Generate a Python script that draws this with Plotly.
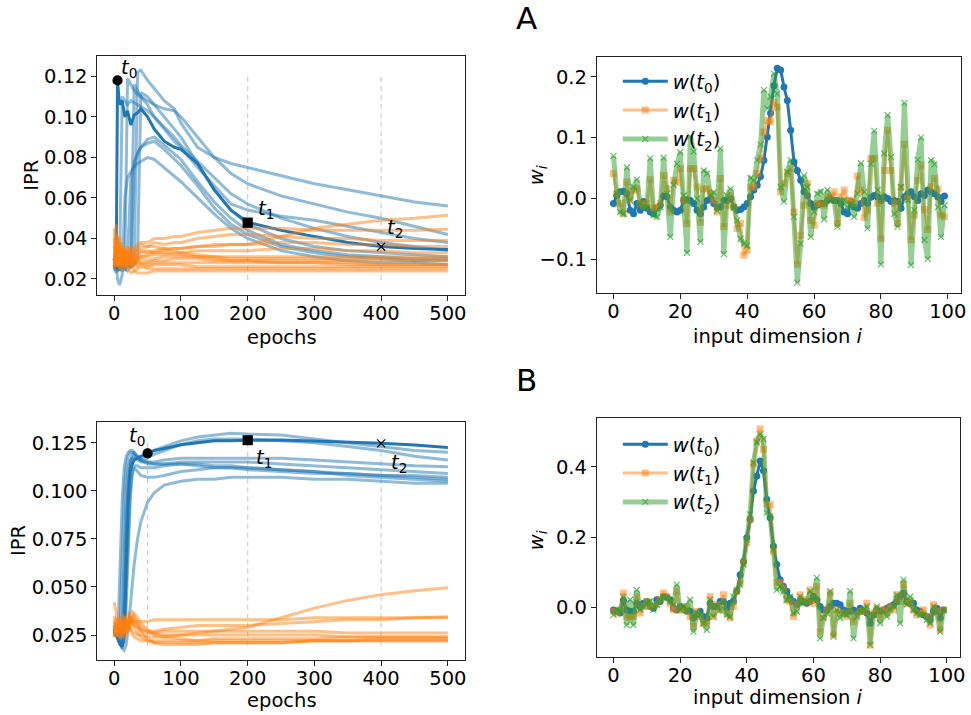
import plotly.graph_objects as go

# ---------------- DATA ----------------
# Panel A, left: IPR vs epochs
EPOCHS_A = [0, 3, 5, 8, 12, 16, 20, 25, 30, 35, 40, 50, 60, 75, 90, 100, 125, 150, 175, 200, 250, 300, 350, 400, 450, 500]
A_DARK = [0.030, 0.025, 0.118, 0.106, 0.108, 0.100, 0.103, 0.096, 0.101, 0.102, 0.104, 0.100, 0.094, 0.088, 0.085, 0.084, 0.077, 0.064, 0.054, 0.048, 0.044, 0.041, 0.038, 0.036, 0.035, 0.0345]
A_BLUE_1 = [0.028, 0.025, 0.030, 0.026, 0.029, 0.024, 0.027, 0.026, 0.028, 0.122, 0.123, 0.118, 0.114, 0.108, 0.104, 0.097, 0.085, 0.080, 0.077, 0.075, 0.071, 0.067, 0.064, 0.061, 0.058, 0.056]
A_BLUE_2 = [0.030, 0.027, 0.025, 0.029, 0.026, 0.028, 0.119, 0.116, 0.113, 0.111, 0.110, 0.108, 0.106, 0.104, 0.103, 0.100, 0.090, 0.080, 0.072, 0.067, 0.061, 0.057, 0.053, 0.050, 0.046, 0.042]
A_BLUE_3 = [0.028, 0.030, 0.026, 0.024, 0.027, 0.030, 0.026, 0.029, 0.116, 0.113, 0.110, 0.106, 0.100, 0.094, 0.088, 0.085, 0.075, 0.066, 0.057, 0.054, 0.051, 0.049, 0.046, 0.043, 0.040, 0.038]
A_BLUE_4 = [0.026, 0.028, 0.024, 0.027, 0.030, 0.025, 0.028, 0.026, 0.027, 0.030, 0.112, 0.110, 0.106, 0.100, 0.094, 0.090, 0.077, 0.064, 0.054, 0.047, 0.040, 0.036, 0.034, 0.033, 0.032, 0.031]
A_BLUE_5 = [0.024, 0.027, 0.030, 0.026, 0.028, 0.025, 0.024, 0.027, 0.075, 0.082, 0.085, 0.089, 0.090, 0.086, 0.082, 0.079, 0.068, 0.058, 0.050, 0.044, 0.037, 0.034, 0.032, 0.031, 0.030, 0.030]
A_BLUE_6 = [0.027, 0.023, 0.026, 0.029, 0.024, 0.027, 0.030, 0.070, 0.078, 0.082, 0.085, 0.087, 0.088, 0.084, 0.079, 0.076, 0.066, 0.055, 0.047, 0.042, 0.036, 0.033, 0.031, 0.030, 0.029, 0.029]
A_BLUE_7 = [0.025, 0.029, 0.020, 0.017, 0.022, 0.060, 0.070, 0.073, 0.075, 0.077, 0.078, 0.080, 0.079, 0.075, 0.071, 0.068, 0.060, 0.052, 0.045, 0.040, 0.034, 0.031, 0.029, 0.028, 0.028, 0.027]
A_BLUE_8 = [0.030, 0.026, 0.028, 0.024, 0.110, 0.108, 0.106, 0.108, 0.107, 0.106, 0.105, 0.103, 0.100, 0.095, 0.090, 0.086, 0.078, 0.070, 0.062, 0.057, 0.050, 0.045, 0.041, 0.038, 0.036, 0.034]
A_ORANGE_1 = [0.030, 0.038, 0.028, 0.033, 0.026, 0.031, 0.029, 0.027, 0.028, 0.030, 0.031, 0.032, 0.033, 0.034, 0.035, 0.035, 0.036, 0.036, 0.037, 0.037, 0.041, 0.045, 0.047, 0.049, 0.050, 0.0515]
A_ORANGE_2 = [0.045, 0.030, 0.040, 0.028, 0.036, 0.032, 0.030, 0.034, 0.035, 0.037, 0.038, 0.038, 0.040, 0.040, 0.041, 0.041, 0.043, 0.044, 0.045, 0.045, 0.045, 0.044, 0.044, 0.044, 0.044, 0.0446]
A_ORANGE_3 = [0.035, 0.042, 0.030, 0.038, 0.029, 0.033, 0.036, 0.031, 0.033, 0.035, 0.037, 0.036, 0.038, 0.037, 0.038, 0.038, 0.040, 0.041, 0.042, 0.042, 0.041, 0.040, 0.040, 0.039, 0.039, 0.039]
A_ORANGE_4 = [0.028, 0.033, 0.040, 0.027, 0.031, 0.035, 0.028, 0.034, 0.030, 0.032, 0.034, 0.033, 0.034, 0.035, 0.035, 0.035, 0.036, 0.037, 0.037, 0.037, 0.038, 0.038, 0.037, 0.037, 0.036, 0.036]
A_ORANGE_5 = [0.032, 0.026, 0.035, 0.030, 0.038, 0.028, 0.032, 0.029, 0.031, 0.030, 0.031, 0.031, 0.032, 0.032, 0.033, 0.033, 0.034, 0.034, 0.034, 0.034, 0.035, 0.035, 0.034, 0.034, 0.033, 0.033]
A_ORANGE_6 = [0.025, 0.030, 0.027, 0.036, 0.028, 0.030, 0.034, 0.027, 0.029, 0.028, 0.030, 0.029, 0.030, 0.031, 0.031, 0.031, 0.031, 0.031, 0.031, 0.031, 0.031, 0.031, 0.031, 0.031, 0.031, 0.031]
A_ORANGE_7 = [0.040, 0.028, 0.032, 0.029, 0.035, 0.026, 0.030, 0.032, 0.027, 0.029, 0.028, 0.028, 0.029, 0.029, 0.030, 0.030, 0.030, 0.029, 0.029, 0.029, 0.029, 0.029, 0.029, 0.029, 0.029, 0.029]
A_ORANGE_8 = [0.030, 0.034, 0.026, 0.031, 0.029, 0.034, 0.026, 0.029, 0.031, 0.027, 0.028, 0.027, 0.028, 0.028, 0.028, 0.028, 0.028, 0.028, 0.028, 0.028, 0.028, 0.028, 0.027, 0.027, 0.027, 0.027]
A_ORANGE_9 = [0.027, 0.031, 0.036, 0.025, 0.032, 0.027, 0.031, 0.025, 0.028, 0.026, 0.027, 0.026, 0.027, 0.027, 0.027, 0.027, 0.026, 0.026, 0.026, 0.026, 0.026, 0.026, 0.026, 0.026, 0.026, 0.026]
A_ORANGE_10 = [0.033, 0.028, 0.031, 0.026, 0.030, 0.025, 0.028, 0.030, 0.024, 0.025, 0.026, 0.025, 0.025, 0.025, 0.025, 0.025, 0.025, 0.025, 0.025, 0.025, 0.025, 0.025, 0.025, 0.025, 0.025, 0.025]
A_ORANGE_11 = [0.029, 0.035, 0.027, 0.032, 0.024, 0.029, 0.026, 0.023, 0.024, 0.023, 0.023, 0.023, 0.024, 0.024, 0.024, 0.024, 0.024, 0.024, 0.024, 0.024, 0.024, 0.024, 0.024, 0.024, 0.024, 0.024]
A_ORANGE_12 = [0.036, 0.029, 0.033, 0.041, 0.030, 0.035, 0.032, 0.036, 0.033, 0.031, 0.033, 0.034, 0.033, 0.033, 0.032, 0.032, 0.031, 0.030, 0.029, 0.029, 0.028, 0.028, 0.028, 0.027, 0.027, 0.027]
A_ORANGE_13 = [0.026, 0.047, 0.034, 0.029, 0.031, 0.028, 0.033, 0.030, 0.032, 0.034, 0.035, 0.036, 0.036, 0.035, 0.034, 0.033, 0.032, 0.031, 0.030, 0.030, 0.030, 0.030, 0.030, 0.030, 0.030, 0.030]
A_MARK_EPOCHS = [5, 200, 400]
A_MARK_IPR = [0.118, 0.0478, 0.0359]
A_DASH_EPOCHS = [200, 400]
A_DASH_RANGE = [0.0195, 0.1205]

# Panel B, left: IPR vs epochs
EPOCHS_B = [0, 3, 6, 9, 12, 15, 18, 21, 24, 27, 30, 35, 40, 50, 60, 75, 100, 125, 150, 175, 200, 250, 300, 350, 400, 450, 500]
B_DARK = [0.028, 0.025, 0.022, 0.020, 0.019, 0.025, 0.060, 0.095, 0.110, 0.114, 0.116, 0.117, 0.118, 0.1195, 0.121, 0.122, 0.124, 0.125, 0.126, 0.126, 0.1263, 0.1265, 0.126, 0.1255, 0.1247, 0.1238, 0.1226]
B_BLUE_1 = [0.030, 0.026, 0.030, 0.060, 0.095, 0.112, 0.118, 0.120, 0.121, 0.121, 0.120, 0.118, 0.117, 0.119, 0.121, 0.123, 0.126, 0.128, 0.129, 0.130, 0.1295, 0.129, 0.127, 0.125, 0.123, 0.121, 0.120]
B_BLUE_2 = [0.025, 0.029, 0.024, 0.030, 0.065, 0.100, 0.113, 0.118, 0.120, 0.120, 0.119, 0.117, 0.116, 0.117, 0.119, 0.121, 0.124, 0.126, 0.127, 0.127, 0.127, 0.126, 0.125, 0.123, 0.121, 0.118, 0.116]
B_BLUE_3 = [0.027, 0.024, 0.028, 0.023, 0.030, 0.070, 0.100, 0.112, 0.116, 0.117, 0.117, 0.116, 0.115, 0.115, 0.115, 0.116, 0.117, 0.117, 0.117, 0.117, 0.117, 0.117, 0.116, 0.115, 0.114, 0.113, 0.1125]
B_BLUE_4 = [0.030, 0.027, 0.022, 0.020, 0.025, 0.045, 0.085, 0.105, 0.115, 0.119, 0.120, 0.118, 0.116, 0.114, 0.114, 0.114, 0.115, 0.115, 0.115, 0.115, 0.115, 0.114, 0.113, 0.112, 0.111, 0.110, 0.109]
B_BLUE_5 = [0.026, 0.030, 0.025, 0.021, 0.018, 0.025, 0.050, 0.080, 0.100, 0.110, 0.113, 0.113, 0.112, 0.112, 0.112, 0.113, 0.114, 0.114, 0.113, 0.113, 0.112, 0.111, 0.110, 0.109, 0.108, 0.107, 0.106]
B_BLUE_6 = [0.028, 0.025, 0.029, 0.022, 0.019, 0.022, 0.040, 0.070, 0.095, 0.108, 0.112, 0.110, 0.108, 0.107, 0.107, 0.108, 0.110, 0.111, 0.112, 0.112, 0.112, 0.111, 0.110, 0.108, 0.107, 0.106, 0.105]
B_BLUE_7 = [0.024, 0.028, 0.023, 0.020, 0.018, 0.017, 0.020, 0.028, 0.040, 0.052, 0.062, 0.075, 0.084, 0.094, 0.099, 0.103, 0.105, 0.106, 0.106, 0.107, 0.107, 0.107, 0.106, 0.106, 0.105, 0.104, 0.104]
B_BLUE_8 = [0.029, 0.024, 0.027, 0.025, 0.022, 0.035, 0.075, 0.100, 0.112, 0.117, 0.118, 0.117, 0.116, 0.115, 0.114, 0.114, 0.114, 0.113, 0.112, 0.112, 0.111, 0.110, 0.109, 0.109, 0.108, 0.108, 0.107]
B_ORANGE_1 = [0.042, 0.036, 0.031, 0.028, 0.030, 0.026, 0.030, 0.033, 0.029, 0.027, 0.026, 0.025, 0.025, 0.024, 0.024, 0.024, 0.025, 0.026, 0.027, 0.028, 0.029, 0.034, 0.039, 0.043, 0.046, 0.048, 0.0496]
B_ORANGE_2 = [0.030, 0.034, 0.027, 0.032, 0.036, 0.031, 0.034, 0.037, 0.033, 0.032, 0.032, 0.032, 0.032, 0.032, 0.033, 0.033, 0.033, 0.033, 0.033, 0.033, 0.033, 0.033, 0.034, 0.034, 0.034, 0.034, 0.0345]
B_ORANGE_3 = [0.025, 0.029, 0.033, 0.027, 0.031, 0.035, 0.029, 0.032, 0.034, 0.031, 0.030, 0.029, 0.028, 0.027, 0.027, 0.028, 0.029, 0.030, 0.030, 0.030, 0.030, 0.031, 0.032, 0.033, 0.033, 0.034, 0.034]
B_ORANGE_4 = [0.028, 0.024, 0.030, 0.034, 0.026, 0.029, 0.033, 0.030, 0.035, 0.033, 0.031, 0.029, 0.027, 0.026, 0.026, 0.027, 0.027, 0.027, 0.027, 0.027, 0.027, 0.027, 0.027, 0.026, 0.026, 0.026, 0.026]
B_ORANGE_5 = [0.032, 0.027, 0.024, 0.029, 0.033, 0.027, 0.031, 0.028, 0.031, 0.034, 0.036, 0.034, 0.031, 0.028, 0.026, 0.025, 0.025, 0.025, 0.025, 0.025, 0.025, 0.025, 0.025, 0.024, 0.024, 0.024, 0.024]
B_ORANGE_6 = [0.024, 0.030, 0.027, 0.023, 0.028, 0.032, 0.026, 0.030, 0.028, 0.025, 0.024, 0.023, 0.022, 0.022, 0.022, 0.022, 0.022, 0.022, 0.023, 0.023, 0.023, 0.023, 0.023, 0.024, 0.024, 0.024, 0.024]
B_ORANGE_7 = [0.035, 0.029, 0.033, 0.026, 0.024, 0.029, 0.034, 0.027, 0.030, 0.032, 0.029, 0.026, 0.024, 0.022, 0.021, 0.021, 0.021, 0.021, 0.021, 0.021, 0.021, 0.021, 0.022, 0.022, 0.022, 0.022, 0.022]
B_ORANGE_8 = [0.027, 0.032, 0.026, 0.031, 0.027, 0.023, 0.027, 0.031, 0.036, 0.037, 0.035, 0.031, 0.027, 0.023, 0.021, 0.020, 0.020, 0.020, 0.021, 0.021, 0.021, 0.021, 0.022, 0.022, 0.023, 0.023, 0.023]
B_ORANGE_9 = [0.030, 0.026, 0.031, 0.028, 0.032, 0.029, 0.025, 0.028, 0.032, 0.034, 0.033, 0.031, 0.029, 0.027, 0.025, 0.024, 0.023, 0.022, 0.022, 0.022, 0.022, 0.022, 0.022, 0.022, 0.022, 0.022, 0.022]
B_MARK_EPOCHS = [50, 200, 400]
B_MARK_IPR = [0.1195, 0.1263, 0.1247]
B_DASH_EPOCHS = [50, 200, 400]
B_DASH_RANGE = [0.0195, 0.125]

# Weight profiles, input dimension 0..99
DIMS = list(range(100))
A_W_T0 = [-0.008, 0.005, 0.011, 0.012, 0.008, -0.019, -0.025, -0.008, -0.019, -0.005,
          -0.016, -0.022, -0.025, -0.016, -0.011, 0.004, 0.003, -0.014, -0.019, -0.022,
          -0.019, -0.003, -0.002, -0.003, -0.008, -0.019, -0.025, -0.014, -0.003, 0.000,
          -0.008, -0.014, -0.014, -0.003, -0.003, 0.000, -0.014, -0.019, -0.018, -0.014,
          -0.008, 0.003, 0.014, 0.022, 0.036, 0.063, 0.101, 0.140, 0.185, 0.214,
          0.211, 0.183, 0.161, 0.112, 0.060, 0.046, 0.030, 0.011, 0.005, -0.008,
          -0.014, -0.011, -0.008, -0.008, -0.003, 0.000, -0.003, -0.003, -0.008, -0.022,
          -0.025, -0.005, -0.014, -0.016, -0.008, -0.003, -0.008, 0.002, 0.005, 0.003,
          -0.003, 0.003, 0.000, -0.005, -0.003, -0.005, -0.016, 0.003, 0.008, 0.011,
          0.003, -0.003, 0.008, 0.005, 0.014, 0.011, 0.008, 0.003, -0.005, 0.004]
A_W_T1 = [0.041, 0.008, -0.008, -0.025, 0.027, -0.003, 0.014, 0.016, -0.008, -0.011,
          -0.008, 0.031, -0.016, -0.014, -0.008, 0.038, 0.016, -0.022, 0.030, 0.026,
          0.049, -0.003, -0.041, 0.049, 0.049, 0.019, -0.039, 0.016, 0.016, 0.008,
          -0.003, -0.022, 0.033, -0.046, -0.011, 0.005, -0.014, -0.049, -0.041, -0.093,
          -0.085, 0.019, 0.019, 0.041, 0.066, 0.109, 0.128, 0.126, 0.158, 0.150,
          0.011, 0.025, 0.041, 0.049, -0.022, -0.108, -0.060, -0.011, 0.025, -0.036,
          -0.044, -0.008, -0.008, -0.011, 0.003, 0.003, 0.011, -0.041, 0.003, 0.014,
          -0.003, -0.003, -0.008, 0.037, 0.014, -0.031, -0.020, 0.066, 0.066, -0.008,
          -0.066, 0.046, 0.112, 0.046, -0.008, -0.041, 0.018, 0.089, 0.000, -0.068,
          -0.027, 0.030, 0.055, -0.018, -0.051, 0.019, 0.033, 0.016, -0.027, -0.030]
A_W_T2 = [0.070, 0.008, -0.022, -0.025, 0.051, -0.003, 0.019, 0.031, -0.008, -0.014,
          -0.014, 0.066, -0.027, -0.030, -0.014, 0.067, 0.008, -0.063, 0.022, 0.057,
          0.076, 0.005, -0.089, 0.102, 0.077, 0.000, -0.071, 0.046, 0.041, 0.005,
          0.010, -0.020, 0.082, -0.091, 0.005, 0.016, -0.015, -0.036, -0.066, -0.074,
          -0.077, 0.033, 0.030, 0.063, 0.089, 0.178, 0.148, 0.167, 0.205, 0.172,
          0.019, -0.005, 0.044, 0.063, -0.030, -0.138, -0.074, 0.038, 0.019, -0.063,
          -0.022, 0.008, 0.011, -0.034, 0.014, -0.003, -0.003, -0.046, -0.003, -0.003,
          -0.014, -0.008, -0.030, 0.008, 0.058, 0.011, -0.049, 0.057, 0.111, 0.014,
          -0.108, 0.074, 0.137, 0.068, -0.025, -0.046, 0.019, 0.157, -0.003, -0.109,
          -0.019, 0.064, 0.100, -0.068, -0.099, 0.063, 0.056, -0.014, -0.063, -0.011]
B_W_T0 = [-0.007, -0.011, -0.016, 0.020, -0.007, -0.011, -0.011, 0.012, 0.003, 0.012,
          0.017, 0.003, -0.002, 0.022, 0.017, 0.031, 0.029, 0.022, -0.002, -0.007,
          0.003, -0.002, -0.011, -0.011, -0.030, -0.021, -0.011, -0.026, -0.030, 0.012,
          0.003, 0.003, 0.017, 0.017, -0.002, 0.012, 0.017, 0.046, 0.093, 0.131,
          0.198, 0.250, 0.331, 0.374, 0.417, 0.389, 0.308, 0.255, 0.174, 0.122,
          0.079, 0.060, 0.046, 0.027, 0.017, 0.008, 0.017, 0.017, 0.012, 0.017,
          0.031, 0.022, 0.003, -0.007, -0.007, 0.003, 0.012, 0.012, 0.008, -0.007,
          -0.011, -0.011, -0.007, -0.011, -0.002, -0.011, -0.016, -0.045, -0.021, -0.007,
          -0.011, -0.007, -0.002, 0.003, 0.008, 0.017, 0.031, 0.041, 0.017, 0.012,
          0.012, -0.007, -0.011, -0.021, -0.026, -0.035, -0.011, -0.002, -0.030, -0.007]
B_W_T1 = [-0.011, -0.016, -0.007, 0.041, -0.026, -0.030, -0.026, 0.031, -0.016, 0.003,
          0.017, 0.003, 0.003, 0.008, 0.022, 0.041, 0.031, 0.012, -0.007, 0.046,
          -0.007, -0.007, 0.003, -0.026, -0.054, -0.011, -0.026, -0.045, -0.045, 0.031,
          -0.026, 0.008, -0.007, 0.036, -0.016, -0.030, 0.003, 0.046, 0.070, 0.127,
          0.184, 0.250, 0.408, 0.474, 0.508, 0.450, 0.293, 0.293, 0.160, 0.070,
          0.070, 0.055, 0.022, 0.017, -0.026, 0.008, 0.036, 0.022, 0.017, 0.050,
          0.012, 0.060, -0.069, -0.026, -0.007, 0.041, -0.078, -0.007, -0.016, -0.016,
          -0.026, 0.012, -0.040, -0.021, -0.011, -0.011, 0.012, -0.107, -0.016, -0.002,
          -0.030, -0.007, -0.016, 0.003, -0.007, 0.036, 0.017, 0.065, 0.012, 0.017,
          -0.007, -0.021, -0.016, -0.007, -0.026, -0.050, 0.008, -0.011, -0.064, -0.007]
B_W_T2 = [-0.021, -0.007, -0.011, 0.031, -0.050, 0.022, -0.050, 0.050, -0.007, 0.003,
          0.012, 0.017, -0.007, 0.008, 0.022, 0.031, 0.027, 0.017, 0.008, 0.065,
          -0.007, 0.003, -0.007, 0.022, -0.069, -0.016, -0.021, -0.045, -0.064, 0.022,
          -0.026, 0.003, -0.007, 0.017, -0.021, -0.026, 0.031, 0.050, 0.065, 0.122,
          0.193, 0.265, 0.412, 0.470, 0.493, 0.479, 0.270, 0.260, 0.165, 0.050,
          0.060, 0.046, 0.022, 0.031, -0.016, -0.011, 0.031, 0.012, 0.017, 0.046,
          0.022, 0.084, -0.088, -0.030, -0.016, 0.046, -0.083, -0.007, -0.030, -0.016,
          -0.021, 0.046, -0.088, -0.026, -0.011, -0.007, 0.003, -0.107, -0.021, 0.003,
          -0.045, -0.011, -0.026, -0.007, 0.003, 0.036, -0.045, 0.079, 0.008, 0.031,
          -0.007, -0.016, -0.021, -0.021, -0.035, -0.045, 0.003, -0.016, -0.069, -0.007]

LEGEND_NAMES = ["<i>w</i>(<i>t</i><sub>0</sub>)", "<i>w</i>(<i>t</i><sub>1</sub>)", "<i>w</i>(<i>t</i><sub>2</sub>)"]
T_LABELS = ["<i>t</i><sub>0</sub>", "<i>t</i><sub>1</sub>", "<i>t</i><sub>2</sub>"]

# ---------------- STYLE ----------------
FONT = "DejaVu Sans"
FS = 19.5
BLUE = "#1f77b4"
BLUE_L = "rgba(31,119,180,0.5)"
ORANGE_L = "rgba(255,127,14,0.5)"
GREEN_L = "rgba(44,160,44,0.5)"
W, H = 971, 715

fig = go.Figure()

def ipr_panel(xa, ya, epochs, dark, blues, oranges, mark_e, mark_v):
    for b in blues:
        fig.add_trace(go.Scatter(x=epochs, y=b, mode="lines", line=dict(color=BLUE_L, width=3),
                                 xaxis=xa, yaxis=ya, showlegend=False, hoverinfo="skip"))
    fig.add_trace(go.Scatter(x=epochs, y=dark, mode="lines", line=dict(color=BLUE, width=3),
                             xaxis=xa, yaxis=ya, showlegend=False, hoverinfo="skip"))
    for o in oranges:
        fig.add_trace(go.Scatter(x=epochs, y=o, mode="lines", line=dict(color=ORANGE_L, width=3),
                                 xaxis=xa, yaxis=ya, showlegend=False, hoverinfo="skip"))
    syms = ["circle", "square", "x-thin"]
    sizes = [9, 9, 8]
    for k in range(3):
        fig.add_trace(go.Scatter(x=[mark_e[k]], y=[mark_v[k]], mode="markers",
                                 marker=dict(symbol=syms[k], size=sizes[k], color="black",
                                             line=dict(width=1.2, color="black")),
                                 xaxis=xa, yaxis=ya, showlegend=False, hoverinfo="skip"))

ipr_panel("x", "y", EPOCHS_A, A_DARK,
          [A_BLUE_1, A_BLUE_2, A_BLUE_3, A_BLUE_4, A_BLUE_5, A_BLUE_6, A_BLUE_7, A_BLUE_8],
          [A_ORANGE_1, A_ORANGE_2, A_ORANGE_3, A_ORANGE_4, A_ORANGE_5, A_ORANGE_6, A_ORANGE_7,
           A_ORANGE_8, A_ORANGE_9, A_ORANGE_10, A_ORANGE_11, A_ORANGE_12, A_ORANGE_13],
          A_MARK_EPOCHS, A_MARK_IPR)
ipr_panel("x3", "y3", EPOCHS_B, B_DARK,
          [B_BLUE_1, B_BLUE_2, B_BLUE_3, B_BLUE_4, B_BLUE_5, B_BLUE_6, B_BLUE_7, B_BLUE_8],
          [B_ORANGE_1, B_ORANGE_2, B_ORANGE_3, B_ORANGE_4, B_ORANGE_5, B_ORANGE_6, B_ORANGE_7,
           B_ORANGE_8, B_ORANGE_9],
          B_MARK_EPOCHS, B_MARK_IPR)

def weight_panel(xa, ya, t0, t1, t2, legend, tag):
    fig.add_trace(go.Scatter(x=DIMS, y=t0, mode="lines+markers", name=LEGEND_NAMES[0],
                             line=dict(color=BLUE, width=3), marker=dict(size=7, color=BLUE),
                             xaxis=xa, yaxis=ya, legend=legend, legendgroup=tag + "0"))
    fig.add_trace(go.Scatter(x=DIMS, y=t1, mode="lines+markers", name=LEGEND_NAMES[1],
                             line=dict(color=ORANGE_L, width=3),
                             marker=dict(symbol="square", size=7, color=ORANGE_L),
                             xaxis=xa, yaxis=ya, legend=legend, legendgroup=tag + "1"))
    fig.add_trace(go.Scatter(x=DIMS, y=t2, mode="lines+markers", name=LEGEND_NAMES[2],
                             line=dict(color=GREEN_L, width=5),
                             marker=dict(symbol="x-thin", size=6, color=GREEN_L,
                                         line=dict(width=1.2, color="rgba(44,160,44,0.7)")),
                             xaxis=xa, yaxis=ya, legend=legend, legendgroup=tag + "2"))

weight_panel("x2", "y2", A_W_T0, A_W_T1, A_W_T2, "legend", "a")
weight_panel("x4", "y4", B_W_T0, B_W_T1, B_W_T2, "legend2", "b")

def px_x(p):
    return p / W

def px_y(p):
    return 1 - p / H

axis_common = dict(showline=True, mirror=True, linecolor="#222", linewidth=1.1,
                   ticks="outside", ticklen=5, tickwidth=1.1, tickcolor="#222",
                   showgrid=False, zeroline=False,
                   tickfont=dict(family=FONT, size=FS, color="black"))
xax = dict(axis_common, ticklabelstandoff=-4)

layout = dict(
    width=W, height=H, autosize=False,
    margin=dict(l=0, r=0, t=0, b=0),
    paper_bgcolor="white", plot_bgcolor="white",
    font=dict(family=FONT, size=FS, color="black"),
    xaxis=dict(domain=[px_x(98), px_x(467)], range=[-25, 525], tickvals=[0, 100, 200, 300, 400, 500], anchor="y", **xax),
    yaxis=dict(domain=[px_y(295), px_y(55.5)], range=[0.0121, 0.1303], tickvals=[0.02, 0.04, 0.06, 0.08, 0.10, 0.12], tickformat=".2f", anchor="x", **axis_common),
    xaxis2=dict(domain=[px_x(600), px_x(966)], range=[-4.95, 103.95], tickvals=[0, 20, 40, 60, 80, 100], anchor="y2", **xax),
    yaxis2=dict(domain=[px_y(293), px_y(57)], range=[-0.155, 0.2323], tickvals=[-0.1, 0.0, 0.1, 0.2], tickformat=".1f", anchor="x2", **axis_common),
    xaxis3=dict(domain=[px_x(98), px_x(467)], range=[-25, 525], tickvals=[0, 100, 200, 300, 400, 500], anchor="y3", **xax),
    yaxis3=dict(domain=[px_y(660), px_y(422)], range=[0.012, 0.1358], tickvals=[0.025, 0.05, 0.075, 0.1, 0.125], tickformat=".3f", anchor="x3", **axis_common),
    xaxis4=dict(domain=[px_x(600), px_x(965)], range=[-4.95, 103.95], tickvals=[0, 20, 40, 60, 80, 100], anchor="y4", **xax),
    yaxis4=dict(domain=[px_y(657), px_y(418)], range=[-0.141, 0.539], tickvals=[0.0, 0.2, 0.4], tickformat=".1f", anchor="x4", **axis_common),
    legend=dict(x=px_x(621), y=px_y(62), xanchor="left", yanchor="top", bgcolor="rgba(0,0,0,0)",
                font=dict(family=FONT, size=FS), itemwidth=45, tracegroupgap=0.5),
    legend2=dict(x=px_x(621), y=px_y(425), xanchor="left", yanchor="top", bgcolor="rgba(0,0,0,0)",
                 font=dict(family=FONT, size=FS), itemwidth=45, tracegroupgap=0.5),
)
fig.update_layout(**layout)

shapes = []
for e in A_DASH_EPOCHS:
    shapes.append(dict(type="line", xref="x", yref="y", x0=e, x1=e, y0=A_DASH_RANGE[0], y1=A_DASH_RANGE[1],
                       line=dict(color="rgba(180,180,180,0.6)", width=1.3, dash="5px,4px"), layer="below"))
for e in B_DASH_EPOCHS:
    shapes.append(dict(type="line", xref="x3", yref="y3", x0=e, x1=e, y0=B_DASH_RANGE[0], y1=B_DASH_RANGE[1],
                       line=dict(color="rgba(180,180,180,0.6)", width=1.3, dash="5px,4px"), layer="below"))
fig.update_layout(shapes=shapes)

ann = []
A_SHIFTS = [(11, 12), (18, 13), (14, 18)]
B_SHIFTS = [(-11, 17), (16, -18), (18, -20)]
for k in range(3):
    ann.append(dict(x=A_MARK_EPOCHS[k], y=A_MARK_IPR[k], xref="x", yref="y", text=T_LABELS[k],
                    showarrow=False, xshift=A_SHIFTS[k][0], yshift=A_SHIFTS[k][1],
                    font=dict(family=FONT, size=FS)))
    ann.append(dict(x=B_MARK_EPOCHS[k], y=B_MARK_IPR[k], xref="x3", yref="y3", text=T_LABELS[k],
                    showarrow=False, xshift=B_SHIFTS[k][0], yshift=B_SHIFTS[k][1],
                    font=dict(family=FONT, size=FS)))

def title(text, x, y, angle=0, size=FS):
    ann.append(dict(x=px_x(x), y=px_y(y), xref="paper", yref="paper", text=text, showarrow=False,
                    textangle=angle, xanchor="center", yanchor="middle", font=dict(family=FONT, size=size)))

title("IPR", 31, 175, -90)
title("IPR", 18, 540, -90)
title("epochs", 283, 338)
title("epochs", 283, 700)
title("<i>w</i><sub><i>i</i></sub>", 540, 175, -90)
title("<i>w</i><sub><i>i</i></sub>", 540, 540, -90)
title("input dimension <i>i</i>", 782, 336)
title("input dimension <i>i</i>", 782, 697)
title("A", 529, 18, 0, 31)
title("B", 529, 380, 0, 31)
fig.update_layout(annotations=ann)

fig.write_html("out.html", config={"displayModeBar": False},
               post_script="document.body.style.margin='0px';document.body.style.padding='0px';")
